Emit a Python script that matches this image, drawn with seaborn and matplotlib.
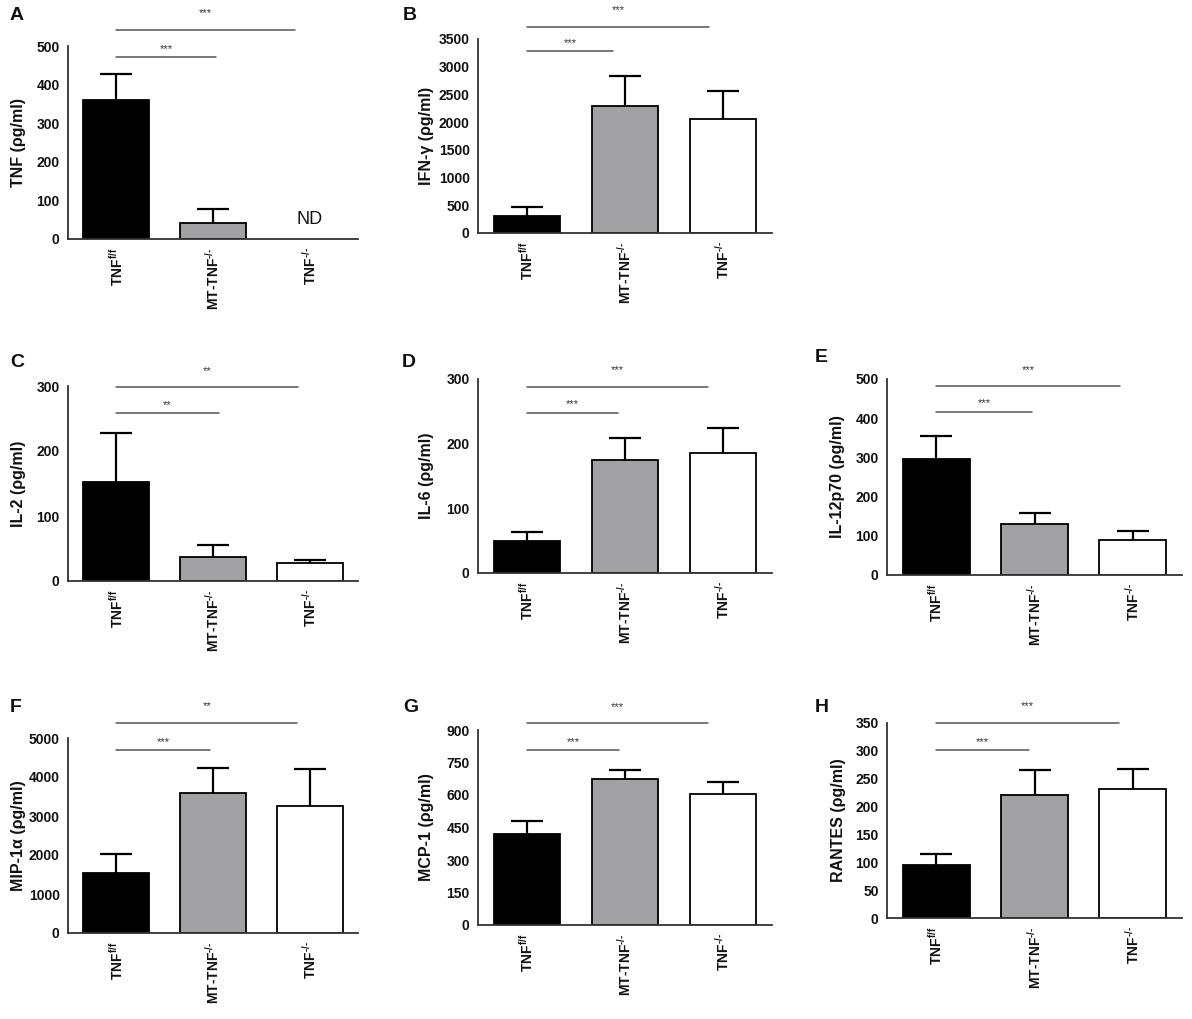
import numpy as np
import matplotlib
matplotlib.use('Agg')
import matplotlib.pyplot as plt
import seaborn as sns

# group labels (x axis)
groups = ['TNF$^{\\text{f/f}}$', 'MT-TNF$^{\\text{-/-}}$', 'TNF$^{\\text{-/-}}$']

# mean and SEM per cytokine (pg/ml)
tnf_mean = [360, 41, np.nan]      # TNF-/- not detected
tnf_sem = [67, 36, np.nan]
ifng_mean = [312, 2293, 2053]
ifng_sem = [156, 540, 516]
il2_mean = [153, 37, 27]
il2_sem = [75, 18, 5]
il6_mean = [49, 175, 186]
il6_sem = [15, 34, 38]
il12_mean = [297, 129, 89]
il12_sem = [57, 29, 22]
mip1a_mean = [1544, 3602, 3268]
mip1a_sem = [480, 618, 943]
mcp1_mean = [420, 674, 605]
mcp1_sem = [60, 41, 55]
rantes_mean = [96, 221, 232]
rantes_sem = [19, 44, 35]

# significance marks: (lower bracket, upper bracket)
sig_A = ['***', '***']
sig_B = ['***', '***']
sig_C = ['**', '**']
sig_D = ['***', '***']
sig_E = ['***', '***']
sig_F = ['***', '**']
sig_G = ['***', '***']
sig_H = ['***', '***']

bar_colors = ['#000000', '#a1a1a3', '#ffffff']
W, H = 1192, 1019

sns.set_style('white')
plt.rcParams['font.family'] = ['Liberation Sans', 'DejaVu Sans']
plt.rcParams['mathtext.fontset'] = 'custom'
plt.rcParams['mathtext.rm'] = 'Liberation Sans:bold'
plt.rcParams['mathtext.bf'] = 'Liberation Sans:bold'
plt.rcParams['mathtext.it'] = 'Liberation Sans:bold:italic'
plt.rcParams['text.color'] = '#111111'
plt.rcParams['axes.labelcolor'] = '#111111'
plt.rcParams['xtick.color'] = '#111111'
plt.rcParams['ytick.color'] = '#111111'

fig = plt.figure(figsize=(W / 100, H / 100), dpi=100)
fig.patch.set_facecolor('white')

# letter, ylabel, means, sems, ymax, step, sig marks,
# axes box in px (left, top, right, bottom), ylabel x px, letter xy px,
# bracket heights (lower, upper) and bracket right ends (lower, upper)
panels = [
    ('A', 'TNF (ρg/ml)', tnf_mean, tnf_sem, 500, 100, sig_A,
     (68, 46, 358, 239), 26, (10, 20), (471, 541), (1.03, 1.85)),
    ('B', 'IFN-γ (ρg/ml)', ifng_mean, ifng_sem, 3500, 500, sig_B,
     (478, 39, 772, 233), 434, (403, 20), (3284, 3716), (0.88, 1.86)),
    ('C', 'IL-2 (ρg/ml)', il2_mean, il2_sem, 300, 100, sig_C,
     (68, 386, 358, 581), 26, (10, 367), (258, 298), (1.06, 1.88)),
    ('D', 'IL-6 (ρg/ml)', il6_mean, il6_sem, 300, 100, sig_D,
     (478, 379, 772, 573), 434, (402, 367), (248, 288), (0.93, 1.85)),
    ('E', 'IL-12p70 (ρg/ml)', il12_mean, il12_sem, 500, 100, sig_E,
     (887, 379, 1182, 575), 845, (815, 362), (417, 481), (0.97, 1.87)),
    ('F', 'MIP-1α (ρg/ml)', mip1a_mean, mip1a_sem, 5000, 1000, sig_F,
     (68, 738, 358, 933), 26, (10, 712), (4691, 5386), (0.97, 1.87)),
    ('G', 'MCP-1 (ρg/ml)', mcp1_mean, mcp1_sem, 900, 150, sig_G,
     (478, 730, 772, 925), 434, (403, 712), (806, 931), (0.94, 1.85)),
    ('H', 'RANTES (ρg/ml)', rantes_mean, rantes_sem, 350, 50, sig_H,
     (887, 723, 1182, 918), 846, (815, 712), (301, 350), (0.94, 1.86)),
]

axis_col = '#333333'

for (letter, ylab, means, sems, ymax, step, sig, box, ylab_x, lxy,
     br_y, br_x) in panels:
    l, t, r, b = box
    ax = fig.add_axes([l / W, 1 - b / H, (r - l) / W, (b - t) / H])

    sns.barplot(x=groups, y=means, hue=groups, order=groups, hue_order=groups,
                palette=bar_colors, edgecolor='black', linewidth=1.3,
                width=0.68, errorbar=None, legend=False, ax=ax)
    means_arr = np.array(means, dtype=float)
    sems_arr = np.array(sems, dtype=float)
    # upper-only SEM bars
    eb = ax.errorbar(np.arange(3), means_arr,
                     yerr=[np.zeros(3), sems_arr], fmt='none', ecolor='black',
                     elinewidth=1.6, capsize=11.5, capthick=1.6, zorder=1)
    for cl in eb[1]:
        yd = np.asarray(cl.get_ydata(), dtype=float)
        if np.allclose(yd[~np.isnan(yd)], means_arr[~np.isnan(means_arr)]):
            cl.set_visible(False)

    ax.set_xlim(-0.5, 2.5)
    ax.set_ylim(0, ymax)
    ax.set_yticks(np.arange(0, ymax + 1, step))
    ax.set_yticklabels([f'{v:d}' for v in np.arange(0, ymax + 1, step)],
                       fontsize=10, fontweight='bold')
    ax.set_xticks(range(3))
    ax.set_xticklabels(groups, rotation=90, fontsize=10, fontweight='bold')
    ax.tick_params(axis='both', direction='out', length=4, width=1.2,
                   color=axis_col, pad=2)
    ax.tick_params(axis='x', length=5, pad=1)
    sns.despine(ax=ax)
    for s in ['left', 'bottom']:
        ax.spines[s].set_color(axis_col)
        ax.spines[s].set_linewidth(1.3)

    ax.set_ylabel(ylab, fontsize=11.5, fontweight='bold')
    ax.yaxis.set_label_coords((ylab_x - l) / (r - l), 0.5)

    # significance brackets
    for k, (yv, xe) in enumerate(zip(br_y, br_x)):
        ax.plot([0, xe], [yv, yv], color='#555555', lw=1.1, clip_on=False)
        off = 6 if k == 0 else 12
        ax.annotate(sig[k], xy=(xe / 2, yv), xytext=(0, off),
                    textcoords='offset points', ha='center', va='center',
                    fontsize=8, color='#333333', annotation_clip=False)

    if letter == 'A':
        ax.text(2, ymax * 0.1, 'ND', ha='center', va='center', fontsize=13)

    fig.text(lxy[0] / W, 1 - lxy[1] / H, letter, fontsize=14,
             fontweight='bold', ha='left', va='baseline')

fig.savefig('out.png', dpi=100, facecolor='white')
